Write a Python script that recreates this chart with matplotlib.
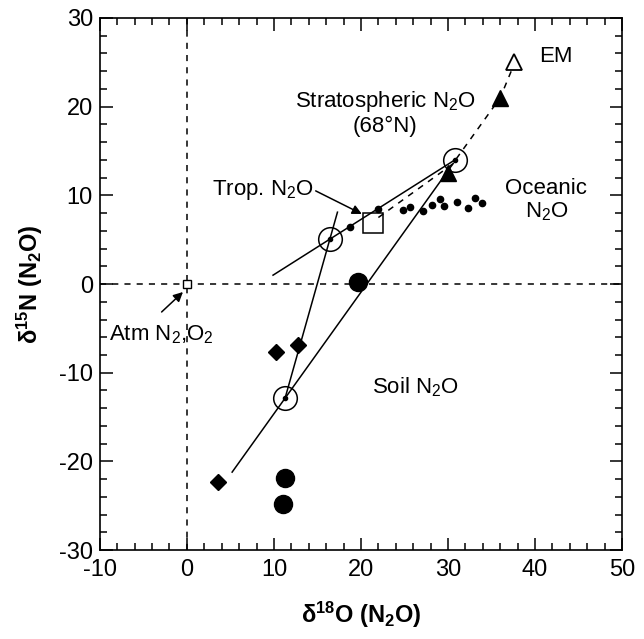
import matplotlib
matplotlib.use('Agg')
import matplotlib.pyplot as plt
from matplotlib.ticker import MultipleLocator

plt.rcParams['font.family'] = ['Liberation Sans', 'DejaVu Sans']
plt.rcParams['mathtext.fontset'] = 'custom'
plt.rcParams['mathtext.rm'] = 'Liberation Sans'
plt.rcParams['mathtext.it'] = 'Liberation Sans'
plt.rcParams['mathtext.bf'] = 'Liberation Sans:bold'
plt.rcParams['axes.unicode_minus'] = False

# isotope data, delta18O (x) vs delta15N (y), per mil
strat_filled_x = [36.0, 30.0]
strat_filled_y = [21.0, 12.5]
em_x = [37.6]
em_y = [25.0]
trop_x = [21.4]
trop_y = [6.9]
atm_x = [0.0]
atm_y = [0.0]
ocean_x = [18.7, 22.0, 24.8, 25.6, 27.1, 28.2, 29.1, 29.5, 31.0, 32.3, 33.1, 33.9]
ocean_y = [6.4, 8.5, 8.3, 8.7, 8.2, 8.9, 9.6, 8.8, 9.3, 8.6, 9.7, 9.1]
soil_dot_x = [19.7, 11.3, 11.0]
soil_dot_y = [0.2, -21.9, -24.8]
diamond_x = [12.8, 10.2, 3.6]
diamond_y = [-6.9, -7.7, -22.3]
mean_x = [16.4, 11.3, 30.8]
mean_y = [5.1, -12.8, 14.0]

# mixing lines and fractionation curve
line_a_x = [9.9, 30.8]
line_a_y = [1.0, 14.0]
line_b_x = [17.3, 11.3]
line_b_y = [8.1, -12.8]
line_c_x = [30.6, 5.2]
line_c_y = [13.6, -21.2]
curve_x = [22.0, 30.5, 36.0, 37.6]
curve_y = [7.5, 13.5, 21.0, 24.8]

fig = plt.figure(figsize=(6.44, 6.39), dpi=100)
ax = fig.add_axes([0.155, 0.139, 0.811, 0.833])

ax.axhline(0, color='k', ls=(0, (4, 4)), lw=1.1)
ax.axvline(0, color='k', ls=(0, (4, 4)), lw=1.1)

ax.plot(line_a_x, line_a_y, 'k-', lw=1.1)
ax.plot(line_b_x, line_b_y, 'k-', lw=1.1)
ax.plot(line_c_x, line_c_y, 'k-', lw=1.1)
ax.plot(curve_x, curve_y, 'k', ls=(0, (4, 4)), lw=1.1)

ax.plot(ocean_x, ocean_y, 'ko', ms=4.5)
ax.plot(soil_dot_x, soil_dot_y, 'ko', ms=13)
ax.plot(diamond_x, diamond_y, 'kD', ms=8.5)
ax.plot(strat_filled_x, strat_filled_y, 'k^', ms=11)
ax.plot(em_x, em_y, '^', mfc='white', mec='k', mew=1.3, ms=12)
ax.plot(mean_x, mean_y, 'o', mfc='none', mec='k', mew=1.1, ms=17)
ax.plot(mean_x, mean_y, 'ko', ms=3)
ax.plot(trop_x, trop_y, 's', mfc='none', mec='k', mew=1.1, ms=14)
ax.plot(atm_x, atm_y, 's', mfc='white', mec='k', mew=1.0, ms=6)

fs = 16
ax.text(40.5, 25.6, 'EM', fontsize=fs, va='center', ha='left')
ax.text(22.8, 19.3, 'Stratospheric N$_2$O\n(68°N)', fontsize=fs,
        ha='center', va='center', linespacing=1.1)
ax.text(14.6, 10.6, 'Trop. N$_2$O', fontsize=fs, ha='right', va='center')
ax.text(41.3, 9.4, 'Oceanic\nN$_2$O', fontsize=fs, ha='center', va='center',
        linespacing=1.1)
ax.text(21.3, -11.6, 'Soil N$_2$O', fontsize=fs, ha='left', va='center')
ax.text(-9.0, -5.7, 'Atm N$_2$,O$_2$', fontsize=fs, ha='left', va='center')

ax.annotate('', xy=(20.1, 7.9), xytext=(14.8, 10.5),
            arrowprops=dict(arrowstyle='-|>', color='k', lw=1.1,
                            mutation_scale=14, shrinkA=0, shrinkB=0))
ax.annotate('', xy=(-0.45, -0.9), xytext=(-2.9, -3.15),
            arrowprops=dict(arrowstyle='-|>', color='k', lw=1.1,
                            mutation_scale=14, shrinkA=0, shrinkB=0))

ax.set_xlim(-10, 50)
ax.set_ylim(-30, 30)
ax.xaxis.set_major_locator(MultipleLocator(10))
ax.xaxis.set_minor_locator(MultipleLocator(2))
ax.yaxis.set_major_locator(MultipleLocator(10))
ax.yaxis.set_minor_locator(MultipleLocator(2))
ax.tick_params(which='both', direction='in', top=True, right=True,
               labelsize=17, width=1.1)
ax.tick_params(which='major', length=9)
ax.tick_params(which='minor', length=5)
ax.tick_params(axis='x', pad=6)
ax.tick_params(axis='y', pad=5)
for s in ax.spines.values():
    s.set_linewidth(1.2)

ax.set_xlabel(r'$\mathbf{\delta^{18}O\ (N_2O)}$', fontsize=17, labelpad=14)
ax.set_ylabel(r'$\mathbf{\delta^{15}N\ (N_2O)}$', fontsize=17, labelpad=10)

fig.savefig('out.png', dpi=100)
